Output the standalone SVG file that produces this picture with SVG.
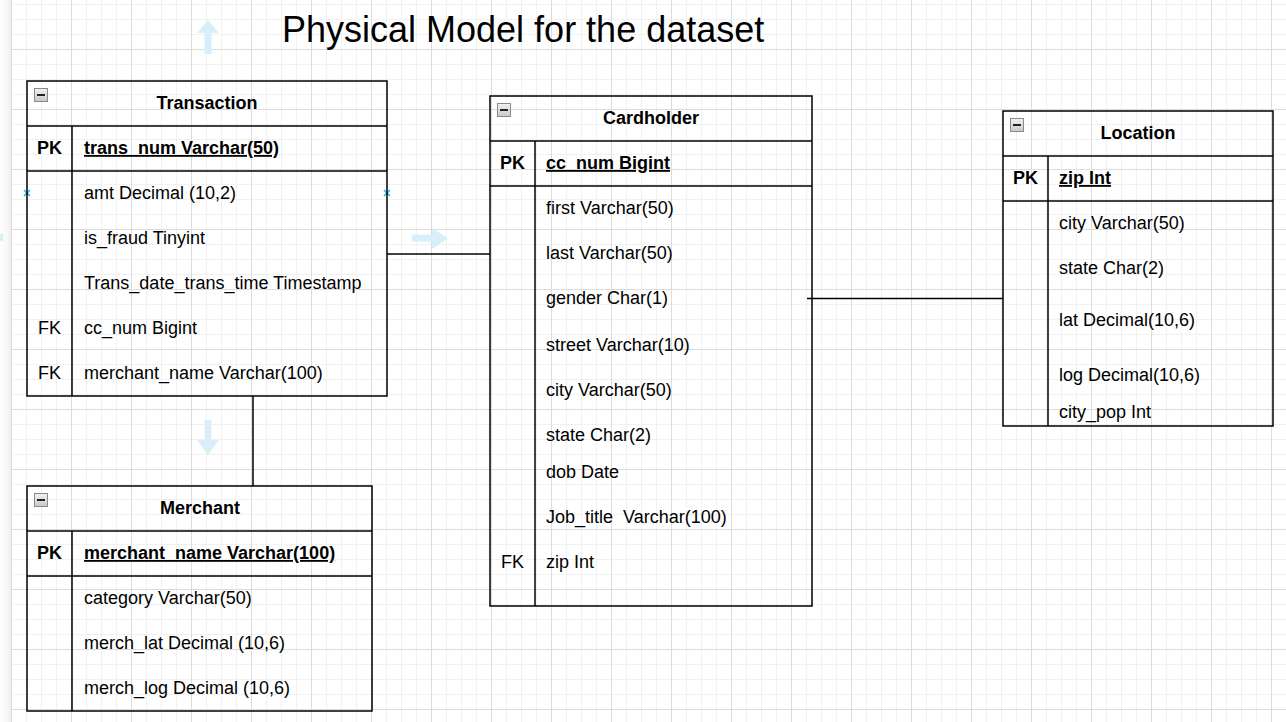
<svg xmlns="http://www.w3.org/2000/svg" width="1286" height="722" viewBox="0 0 1286 722">
<defs>
<pattern id="grid" x="11" y="-11" width="60" height="60" patternUnits="userSpaceOnUse">
<rect x="0" y="15" width="60" height="1" fill="#f1f1f1"/>
<rect x="0" y="30" width="60" height="1" fill="#f1f1f1"/>
<rect x="0" y="45" width="60" height="1" fill="#f1f1f1"/>
<rect x="15" y="0" width="1" height="60" fill="#f1f1f1"/>
<rect x="30" y="0" width="1" height="60" fill="#f1f1f1"/>
<rect x="45" y="0" width="1" height="60" fill="#f1f1f1"/>
<rect x="0" y="0" width="60" height="1" fill="#dcdcdc"/>
<rect x="0" y="0" width="1" height="60" fill="#dcdcdc"/>
</pattern>
<linearGradient id="strip" x1="0" y1="0" x2="1" y2="0">
<stop offset="0" stop-color="#fdfdfd"/>
<stop offset="0.7" stop-color="#f7f7f7"/>
<stop offset="1" stop-color="#ebebeb"/>
</linearGradient>
<linearGradient id="iconfill" x1="0" y1="0" x2="0" y2="1">
<stop offset="0" stop-color="#f2f2f2"/>
<stop offset="1" stop-color="#c8c8c8"/>
</linearGradient>
<g id="collapse">
<rect x="0.5" y="0.5" width="13" height="13" fill="url(#iconfill)" stroke="#8a8a8a" stroke-width="1"/>
<line x1="3" y1="7" x2="11" y2="7" stroke="#222" stroke-width="2"/>
</g>
</defs>
<style>
.frame{fill:none;stroke:#000;stroke-width:1.5}
.t{font-family:"Liberation Sans",Arial,sans-serif;font-size:18px;fill:#000;white-space:pre}
.b{font-weight:bold}
.c{text-anchor:middle}
.u{text-decoration:underline}
.conn{fill:none;stroke:#000;stroke-width:1.5}
.hint{fill:#d9eefb}
.xmark{fill:none;stroke:#29b6f2;stroke-width:1.6}
</style>
<rect x="0" y="0" width="1286" height="722" fill="#ffffff"/>
<rect x="11" y="0" width="1275" height="722" fill="url(#grid)"/>
<rect x="0" y="0" width="11" height="722" fill="url(#strip)"/>

<text class="t" x="282" y="42" style="font-size:36px">Physical Model for the dataset</text>

<g id="hints">
<path class="hint" d="M208 20 L219 33 L211.5 33 L211.5 54 L204.5 54 L204.5 33 L197 33 Z"/>
<path class="hint" d="M448 238.5 L432 249 L432 241.5 L412 241.5 L412 234.5 L432 234.5 L432 228 Z"/>
<path class="hint" d="M208 455 L197 440 L204.5 440 L204.5 420 L211.5 420 L211.5 440 L219 440 Z"/>
<path class="hint" d="M0 234 L3 234 L3 241 L0 241 Z"/>
<path class="xmark" d="M24 190 L30 196 M30 190 L24 196"/>
<path class="xmark" d="M384 190 L390 196 M390 190 L384 196"/>
</g>

<g id="connectors">
<line class="conn" x1="387" y1="254" x2="490" y2="254"/>
<line class="conn" x1="253" y1="396" x2="253" y2="486"/>
<line class="conn" x1="807" y1="298.5" x2="1003" y2="298.5"/>
</g>

<g id="transaction">
<rect class="frame" x="27" y="81" width="360" height="315"/>
<line class="frame" x1="27" y1="126" x2="387" y2="126"/>
<line class="frame" x1="27" y1="171" x2="387" y2="171"/>
<line class="frame" x1="72" y1="126" x2="72" y2="396"/>
<use href="#collapse" x="34" y="88"/>
<text class="t b c" x="207" y="109">Transaction</text>
<text class="t b c" x="49.5" y="154">PK</text>
<text class="t b u" x="84" y="154">trans_num Varchar(50)</text>
<text class="t" x="84" y="199">amt Decimal (10,2)</text>
<text class="t" x="84" y="244">is_fraud Tinyint</text>
<text class="t" x="84" y="289">Trans_date_trans_time Timestamp</text>
<text class="t c" x="49.5" y="334">FK</text>
<text class="t" x="84" y="334">cc_num Bigint</text>
<text class="t c" x="49.5" y="379">FK</text>
<text class="t" x="84" y="379">merchant_name Varchar(100)</text>
</g>

<g id="merchant">
<rect class="frame" x="27" y="486" width="345" height="225"/>
<line class="frame" x1="27" y1="531" x2="372" y2="531"/>
<line class="frame" x1="27" y1="576" x2="372" y2="576"/>
<line class="frame" x1="72" y1="531" x2="72" y2="711"/>
<use href="#collapse" x="34" y="493"/>
<text class="t b c" x="200" y="514">Merchant</text>
<text class="t b c" x="49.5" y="559">PK</text>
<text class="t b u" x="84" y="559">merchant_name Varchar(100)</text>
<text class="t" x="84" y="604">category Varchar(50)</text>
<text class="t" x="84" y="649">merch_lat Decimal (10,6)</text>
<text class="t" x="84" y="694">merch_log Decimal (10,6)</text>
</g>

<g id="cardholder">
<rect class="frame" x="490" y="96" width="322" height="510"/>
<line class="frame" x1="490" y1="141" x2="812" y2="141"/>
<line class="frame" x1="490" y1="186" x2="812" y2="186"/>
<line class="frame" x1="535" y1="141" x2="535" y2="606"/>
<use href="#collapse" x="497" y="103"/>
<text class="t b c" x="651" y="124">Cardholder</text>
<text class="t b c" x="512.5" y="169">PK</text>
<text class="t b u" x="546" y="169">cc_num Bigint</text>
<text class="t" x="546" y="214">first Varchar(50)</text>
<text class="t" x="546" y="259">last Varchar(50)</text>
<text class="t" x="546" y="304">gender Char(1)</text>
<text class="t" x="546" y="351">street Varchar(10)</text>
<text class="t" x="546" y="396">city Varchar(50)</text>
<text class="t" x="546" y="441">state Char(2)</text>
<text class="t" x="546" y="478">dob Date</text>
<text class="t" x="546" y="523">Job_title  Varchar(100)</text>
<text class="t c" x="512.5" y="568">FK</text>
<text class="t" x="546" y="568">zip Int</text>
</g>

<g id="location">
<rect class="frame" x="1003" y="111" width="270" height="315"/>
<line class="frame" x1="1003" y1="156" x2="1273" y2="156"/>
<line class="frame" x1="1003" y1="201" x2="1273" y2="201"/>
<line class="frame" x1="1048" y1="156" x2="1048" y2="426"/>
<use href="#collapse" x="1010" y="118"/>
<text class="t b c" x="1138" y="139">Location</text>
<text class="t b c" x="1025.5" y="184">PK</text>
<text class="t b u" x="1059" y="184">zip Int</text>
<text class="t" x="1059" y="229">city Varchar(50)</text>
<text class="t" x="1059" y="274">state Char(2)</text>
<text class="t" x="1059" y="326">lat Decimal(10,6)</text>
<text class="t" x="1059" y="381">log Decimal(10,6)</text>
<text class="t" x="1059" y="418">city_pop Int</text>
</g>
</svg>
